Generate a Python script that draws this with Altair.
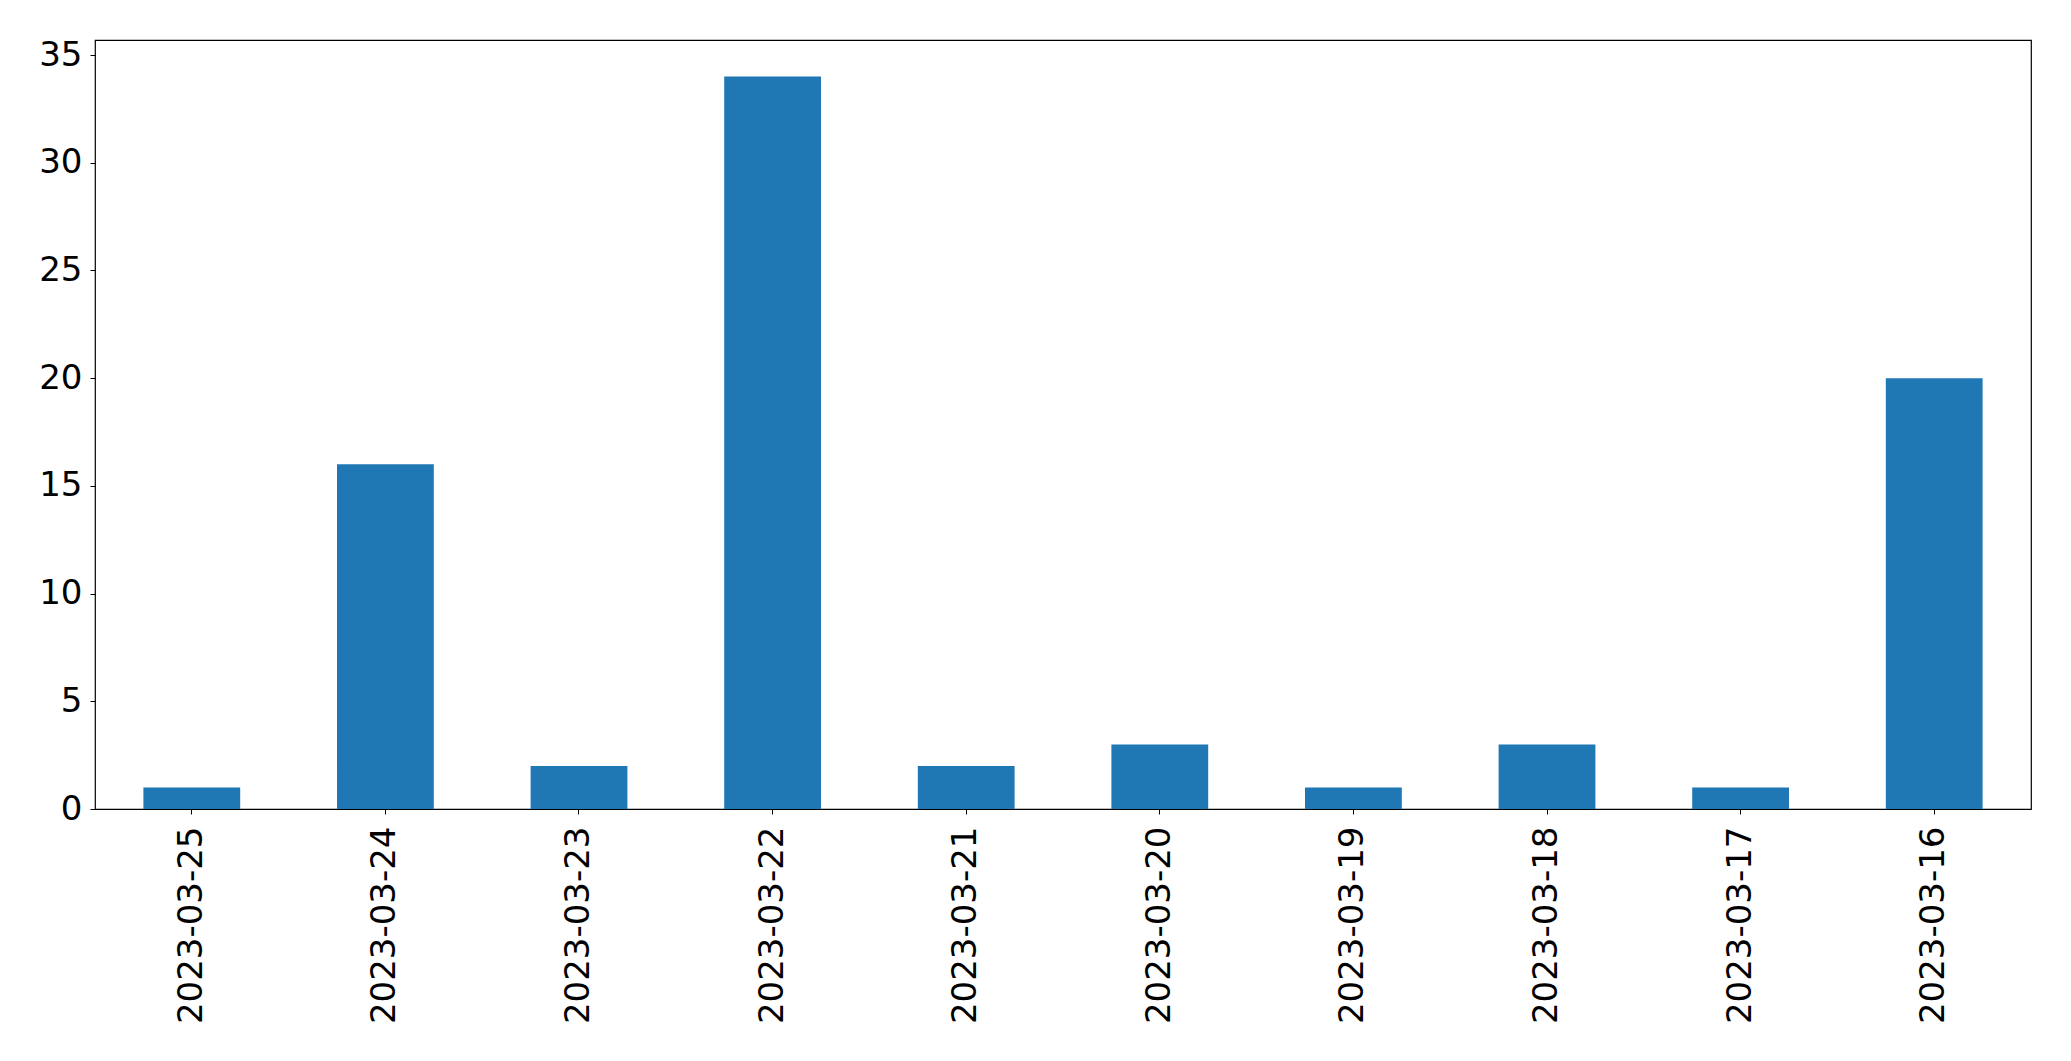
import altair as alt
import pandas as pd

dates = ["2023-03-25", "2023-03-24", "2023-03-23", "2023-03-22", "2023-03-21",
         "2023-03-20", "2023-03-19", "2023-03-18", "2023-03-17", "2023-03-16"]
counts = [1, 16, 2, 34, 2, 3, 1, 3, 1, 20]
y_ticks = [0, 5, 10, 15, 20, 25, 30, 35]

df = pd.DataFrame({"date": dates, "count": counts})

FONT = "DejaVu Sans"
FS = 34

chart = alt.Chart(df).mark_bar(color="#1f77b4").encode(
    x=alt.X("date:N", sort=dates, title=None,
            scale=alt.Scale(paddingInner=0.5, paddingOuter=0.25),
            axis=alt.Axis(labelAngle=-90, labelFontSize=FS, labelFont=FS and FONT,
                          labelColor="black", tickSize=5, tickColor="black",
                          tickWidth=1, labelPadding=12, domain=False, labelLimit=0)),
    y=alt.Y("count:Q", title=None,
            scale=alt.Scale(domain=[0, 35.7], nice=False, zero=True),
            axis=alt.Axis(values=y_ticks, labelFontSize=FS, labelFont=FONT,
                          labelColor="black", tickSize=5, tickColor="black",
                          tickWidth=1, labelPadding=8, grid=False, domain=False)),
).properties(
    width=1936,
    height=769,
    autosize=alt.AutoSizeParams(type="none"),
    padding={"left": 87, "top": 32, "right": 32, "bottom": 244},
).configure(
    background="white"
).configure_view(
    stroke="black", strokeWidth=1.2
)

chart.save("out.html", embed_options={"renderer": "svg", "actions": False})
